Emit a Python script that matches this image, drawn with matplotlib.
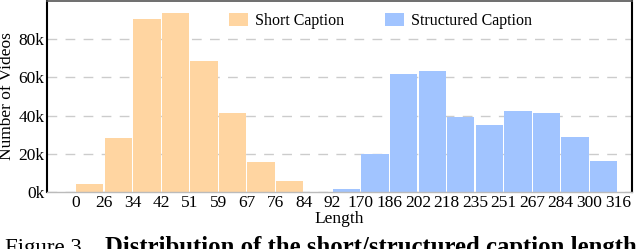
import numpy as np
import matplotlib
matplotlib.use('Agg')
import matplotlib.pyplot as plt
from matplotlib.ticker import FuncFormatter

# bin edge labels (one label between each pair of neighbouring bars)
edge_labels = ['0', '26', '34', '42', '51', '59', '67', '76', '84', '92',
               '170', '186', '202', '218', '235', '251', '267', '284', '300', '316']

# counts per bin (thousands of videos)
short_counts = [0.2, 4.0, 28.3, 90.6, 93.9, 68.4, 41.6, 15.6, 5.8, 0.2]
structured_counts = [1.4, 19.8, 61.8, 63.3, 39.0, 35.3, 42.5, 41.1, 28.7, 16.3]

short_color = '#FFD5A1'
structured_color = '#A1C4FF'

plt.rcParams['font.family'] = ['Liberation Serif', 'DejaVu Serif']

fig = plt.figure(figsize=(6.4, 2.49), dpi=100)
ax = fig.add_axes([0.0734, 0.229, 0.9141, 0.767])

x_short = np.arange(len(short_counts))
x_struct = np.arange(len(structured_counts)) + len(short_counts)

ax.bar(x_short, np.array(short_counts) * 1000, width=0.96, color=short_color,
       label='Short Caption', zorder=2)
ax.bar(x_struct, np.array(structured_counts) * 1000, width=0.96, color=structured_color,
       label='Structured Caption', zorder=2)

ax.set_xlim(-0.5, 20.0)
ax.set_ylim(0, 100000)

ax.set_xticks(np.arange(len(edge_labels)) + 0.5)
ax.set_xticklabels(edge_labels)
ax.set_yticks([0, 20000, 40000, 60000, 80000])
ax.yaxis.set_major_formatter(FuncFormatter(lambda v, p: f'{int(v / 1000)}k'))
ax.tick_params(axis='both', length=0, labelsize=12.5, pad=2)

ax.set_xlabel('Length', fontsize=12.5, labelpad=0)
ax.set_ylabel('Number of Videos', fontsize=12.5, labelpad=2)

ax.grid(axis='y', color='#cccccc', linestyle=(0, (7, 6)), linewidth=1.0, zorder=0)

ax.spines['left'].set_color('black')
ax.spines['left'].set_linewidth(1.5)
ax.spines['right'].set_color('black')
ax.spines['right'].set_linewidth(1.5)
ax.spines['top'].set_color('#555555')
ax.spines['top'].set_linewidth(1.2)
ax.spines['bottom'].set_color('#bbbbbb')
ax.spines['bottom'].set_linewidth(1.0)

ax.legend(loc='center', bbox_to_anchor=(0.57, 0.895), ncol=2, frameon=False,
          fontsize=11.5, handlelength=1.2, handleheight=0.8, columnspacing=2.6,
          handletextpad=0.4)

fig.text(0.008, -0.022, 'Figure 3.', fontsize=16.5, ha='left', va='baseline')
fig.text(0.164, -0.022, 'Distribution of the short/structured caption length',
         fontsize=17.8, fontweight='bold', ha='left', va='baseline')

fig.savefig('out.png', dpi=100)
